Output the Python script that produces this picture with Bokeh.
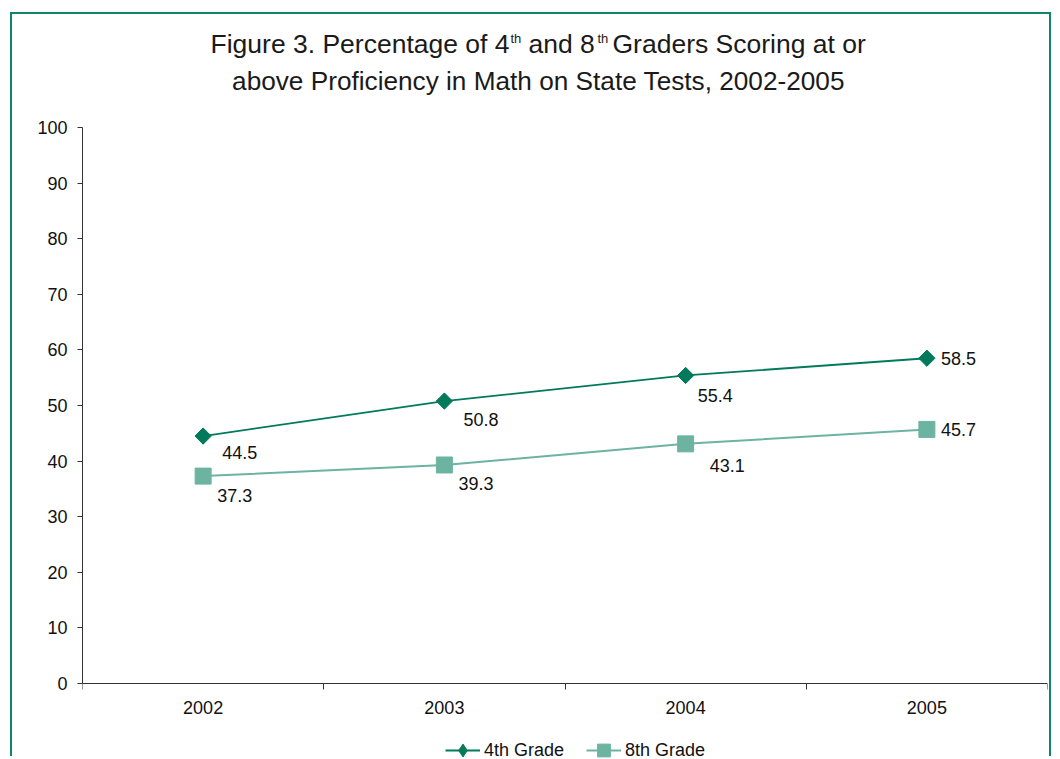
import numpy as np
from bokeh.plotting import figure
from bokeh.models import (ColumnDataSource, Range1d, FixedTicker, Label, Legend,
                          LegendItem)
from bokeh.core.properties import value
from bokeh.embed import file_html
from bokeh.resources import INLINE

# ---------------- data ----------------
years = ["2002", "2003", "2004", "2005"]
grade4 = [44.5, 50.8, 55.4, 58.5]
grade8 = [37.3, 39.3, 43.1, 45.7]
series_names = ["4th Grade", "8th Grade"]
y_ticks = [0, 10, 20, 30, 40, 50, 60, 70, 80, 90, 100]

# data-label offsets in screen pixels (style, not data)
g4_dx = [19, 19, 12, 14]
g4_dy = [16, 18, 20, 0]
g8_dx = [14, 14, 24, 14]
g8_dy = [19, 19, 22, 0]

FONT = "Liberation Sans"
C4 = "#007A5A"
C8 = "#6DB3A1"
BORDER = "#118568"
AXIS = "#333333"

# ---------------- geometry (page pixels) ----------------
ML, MT, BW = 10, 12, 2          # host margins and border width
W, H = 1041, 744                # canvas size
CX0, CY0 = ML + BW, MT + BW     # canvas origin on the page
FL, FR = 82, 1047               # frame left/right (page px) = x-axis extent
Y0_PX, Y100_PX = 683, 127       # page px of value 0 and value 100
PXU = (Y0_PX - Y100_PX) / 100.0 # px per unit
Y_HI = (Y0_PX - CY0) / PXU
Y_LO = -((CY0 + H) - Y0_PX) / PXU


def dx(px):
    return (px - FL) / (FR - FL) * len(years)


def dy(py):
    return (Y0_PX - py) / PXU


xs = [i + 0.5 for i in range(len(years))]

p = figure(width=W, height=H, output_backend="svg", toolbar_location=None,
           x_range=Range1d(0, len(years)), y_range=Range1d(Y_LO, Y_HI),
           min_border_left=FL - CX0, min_border_right=W - (FR - CX0),
           min_border_top=0, min_border_bottom=0, outline_line_color=None,
           background_fill_color="white", border_fill_color="white")
p.styles = {
    "margin-left": f"{ML}px",
    "margin-top": f"{MT}px",
    "border-left": f"{BW}px solid {BORDER}",
    "border-top": f"{BW}px solid {BORDER}",
    "border-right": f"{BW}px solid {BORDER}",
}
p.grid.visible = False

# series
src4 = ColumnDataSource(dict(x=xs, y=grade4, lab=[f"{v:.1f}" for v in grade4],
                             ox=g4_dx, oy=g4_dy))
src8 = ColumnDataSource(dict(x=xs, y=grade8, lab=[f"{v:.1f}" for v in grade8],
                             ox=g8_dx, oy=g8_dy))

l8 = p.line("x", "y", source=src8, line_color=C8, line_width=2)
s8 = p.scatter("x", "y", source=src8, marker="square", size=16,
               fill_color=C8, line_color=C8)
l4 = p.line("x", "y", source=src4, line_color=C4, line_width=1.8)
# diamond glyph used for the legend key (sits inside the rotated square below)
d4 = p.scatter("x", "y", source=src4, marker="diamond", size=15,
               fill_color=C4, line_color=C4)
s4 = p.scatter("x", "y", source=src4, marker="square", angle=np.pi / 4,
               size=11.5, fill_color=C4, line_color=C4)

for src in (src4, src8):
    p.text("x", "y", text="lab", source=src, x_offset="ox", y_offset="oy",
           text_font=value(FONT), text_font_size="18px", text_color="#111111",
           text_align="left", text_baseline="middle")

# axes
p.xaxis.fixed_location = 0
p.xaxis.ticker = FixedTicker(ticks=xs, minor_ticks=list(range(len(years) + 1)))
p.xaxis.major_label_overrides = {x: y for x, y in zip(xs, years)}
p.xaxis.major_tick_out = 0
p.xaxis.major_tick_in = 0
p.xaxis.minor_tick_out = 6
p.xaxis.minor_tick_in = 0
p.xaxis.minor_tick_line_color = AXIS
p.xaxis.major_label_standoff = 11

p.yaxis.ticker = FixedTicker(ticks=y_ticks)
p.yaxis.bounds = (0, 100)
p.yaxis.major_tick_out = 5
p.yaxis.major_tick_in = 0
p.yaxis.minor_tick_line_color = None
p.yaxis.major_label_standoff = 10

for ax in (p.xaxis, p.yaxis):
    ax.axis_line_color = AXIS
    ax.major_tick_line_color = AXIS
    ax.major_label_text_font = FONT
    ax.major_label_text_font_size = "18px"
    ax.major_label_text_color = "#111111"

# title (with superscripts)
title_parts = [
    ("Figure 3. Percentage of 4", 210, 43, "26.5px"),
    ("th", 510, 38, "13px"),
    ("and 8", 528, 43, "26.5px"),
    ("th", 597, 38, "13px"),
    ("Graders Scoring at or", 612, 43, "26.5px"),
]
for txt, px, py, fs in title_parts:
    p.add_layout(Label(x=dx(px), y=dy(py), text=txt, text_font=FONT,
                       text_font_size=fs, text_color="#1a1a1a",
                       text_align="left", text_baseline="alphabetic"))
p.add_layout(Label(x=dx(538), y=dy(80),
                   text="above Proficiency in Math on State Tests, 2002-2005",
                   text_font=FONT, text_font_size="26.2px", text_color="#1a1a1a",
                   text_align="center", text_baseline="alphabetic"))

legend = Legend(items=[LegendItem(label=series_names[0], renderers=[l4, d4]),
                       LegendItem(label=series_names[1], renderers=[l8, s8])],
                orientation="horizontal",
                location=(445 - FL, (CY0 + H) - 766),
                margin=0, padding=0, spacing=22, label_standoff=4,
                glyph_width=35, glyph_height=32,
                border_line_color=None, background_fill_alpha=0,
                label_text_font=FONT, label_text_font_size="18px",
                label_text_color="#111111")
p.add_layout(legend)

open("out.html", "w").write(file_html(p, INLINE))
